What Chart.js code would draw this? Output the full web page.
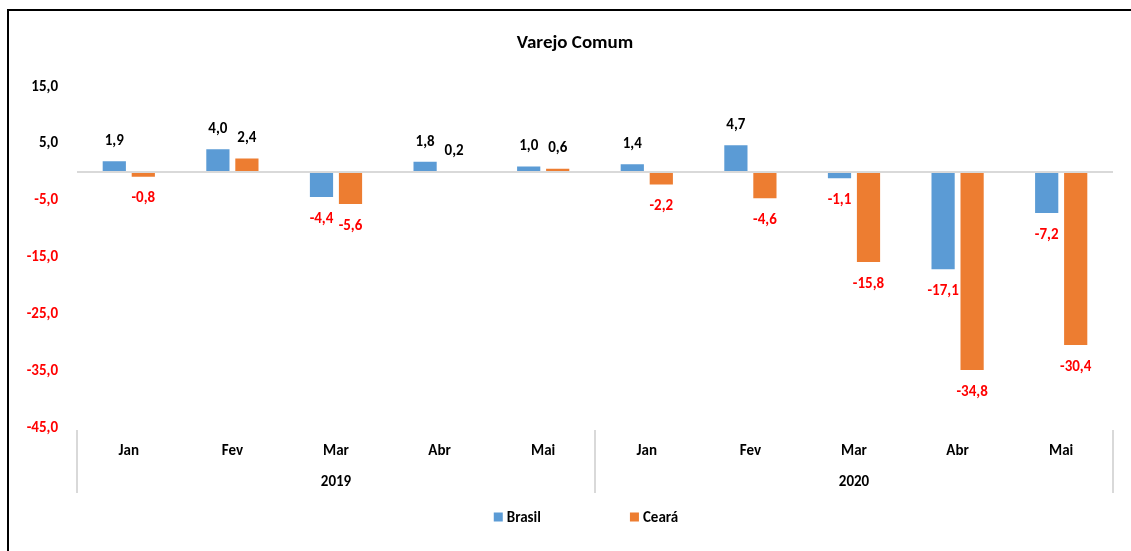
<!DOCTYPE html>
<html>
<head>
<meta charset="utf-8">
<script src="https://cdn.jsdelivr.net/npm/chart.js@4"></script>
<style>
  body { margin: 0; overflow: hidden; background: #fff; }
  #moldura { position: absolute; left: 7px; top: 9px; border-left: 2px solid #000; border-top: 2px solid #000; }
</style>
</head>
<body>
<div id="moldura"><canvas id="grafico" width="1136" height="540"></canvas></div>
<script>
// Dados
const meses = ['Jan', 'Fev', 'Mar', 'Abr', 'Mai', 'Jan', 'Fev', 'Mar', 'Abr', 'Mai'];
const anos = ['2019', '2020'];
const brasil = [1.9, 4.0, -4.4, 1.8, 1.0, 1.4, 4.7, -1.1, -17.1, -7.2];
const ceara = [-0.8, 2.4, -5.6, 0.2, 0.6, -2.2, -4.6, -15.8, -34.8, -30.4];
const yTicks = [-45, -35, -25, -15, -5, 5, 15];

const FONTE = 'Calibri, Carlito, Lato, sans-serif';
const fmt = v => v.toFixed(1).replace('.', ',');

// Rótulos de valor acima / abaixo das barras
const rotulosBarras = {
  id: 'rotulosBarras',
  afterDatasetsDraw(chart) {
    const ctx = chart.ctx;
    ctx.save();
    ctx.font = 'bold 15px ' + FONTE;
    ctx.textAlign = 'center';
    ctx.textBaseline = 'middle';
    chart.data.datasets.forEach((ds, i) => {
      chart.getDatasetMeta(i).data.forEach((bar, j) => {
        const v = ds.data[j];
        ctx.fillStyle = v < 0 ? '#ff0000' : '#000000';
        ctx.fillText(fmt(v), bar.x, v < 0 ? bar.y + 22 : bar.y - 20);
      });
    });
    ctx.restore();
  }
};

// Separadores verticais do eixo de categorias (mês / ano)
const separadores = {
  id: 'separadores',
  afterDraw(chart) {
    const { ctx, chartArea, scales } = chart;
    const xs = [chartArea.left, scales.x.getPixelForValue(4.5), chartArea.right];
    ctx.save();
    ctx.strokeStyle = '#d9d9d9';
    ctx.lineWidth = 2;
    xs.forEach(x => {
      ctx.beginPath();
      ctx.moveTo(x, chartArea.bottom + 2);
      ctx.lineTo(x, scales.x2.bottom - 2);
      ctx.stroke();
    });
    ctx.restore();
  }
};

// Legenda simples embaixo (espaçamento largo como no original)
const legenda = {
  id: 'legenda',
  afterDraw(chart) {
    const ctx = chart.ctx;
    const box = 9, gapTexto = 4, gapItem = 89;
    const y = 506;
    ctx.save();
    ctx.font = 'bold 15px ' + FONTE;
    ctx.textBaseline = 'middle';
    const itens = chart.data.datasets.map(ds => ({
      texto: ds.label, cor: ds.backgroundColor, w: ctx.measureText(ds.label).width
    }));
    const total = itens.reduce((s, it) => s + box + gapTexto + it.w, 0) + gapItem * (itens.length - 1);
    let x = chart.width / 2 + 9 - total / 2;
    itens.forEach(it => {
      ctx.fillStyle = it.cor;
      ctx.fillRect(x, y - box / 2, box, box);
      ctx.fillStyle = '#000';
      ctx.fillText(it.texto, x + box + gapTexto, y + 1);
      x += box + gapTexto + it.w + gapItem;
    });
    ctx.restore();
  }
};

new Chart(document.getElementById('grafico'), {
  type: 'bar',
  data: {
    labels: meses,
    datasets: [
      { label: 'Brasil', data: brasil, backgroundColor: '#5b9bd5' },
      { label: 'Ceará', data: ceara, backgroundColor: '#ed7d31' }
    ]
  },
  options: {
    responsive: false,
    animation: false,
    categoryPercentage: 0.56,
    barPercentage: 0.8,
    layout: { padding: { left: 0, right: 4, top: 0, bottom: 56 } },
    scales: {
      y: {
        min: -45,
        max: 15,
        afterBuildTicks: axis => {
          axis.ticks = [...yTicks, 0].sort((a, b) => a - b).map(value => ({ value }));
        },
        afterFit: axis => { axis.width = 68; },
        grid: {
          drawTicks: false,
          lineWidth: 2,
          color: c => (c.tick && c.tick.value === 0 ? '#d9d9d9' : 'rgba(0,0,0,0)')
        },
        border: { display: false },
        ticks: {
          padding: 19,
          font: { family: FONTE, size: 15, weight: 'bold' },
          color: c => (c.tick.value < 0 ? '#ff0000' : '#000000'),
          callback: v => (v === 0 ? '' : fmt(v))
        }
      },
      // eixo vazio à direita, só para reservar a margem (título fica centrado no quadro)
      yDir: {
        position: 'right',
        grid: { display: false },
        border: { display: false },
        ticks: { display: false },
        afterFit: axis => { axis.width = 28; }
      },
      x: {
        grid: { display: false },
        border: { display: false },
        afterFit: axis => { axis.height = 31; },
        ticks: {
          padding: 6,
          color: '#000',
          font: { family: FONTE, size: 15, weight: 'bold' }
        }
      },
      x2: {
        type: 'category',
        position: 'bottom',
        labels: anos,
        offset: true,
        weight: 1,
        grid: { display: false },
        border: { display: false },
        afterFit: axis => { axis.height = 36; },
        ticks: {
          padding: 6,
          color: '#000',
          font: { family: FONTE, size: 15, weight: 'bold' }
        }
      }
    },
    plugins: {
      legend: { display: false },
      tooltip: { enabled: false },
      title: {
        display: true,
        text: 'Varejo Comum',
        color: '#000',
        font: { family: FONTE, size: 19, weight: 'bold' },
        padding: { top: 21, bottom: 32 }
      }
    }
  },
  plugins: [rotulosBarras, separadores, legenda]
});
</script>
</body>
</html>
